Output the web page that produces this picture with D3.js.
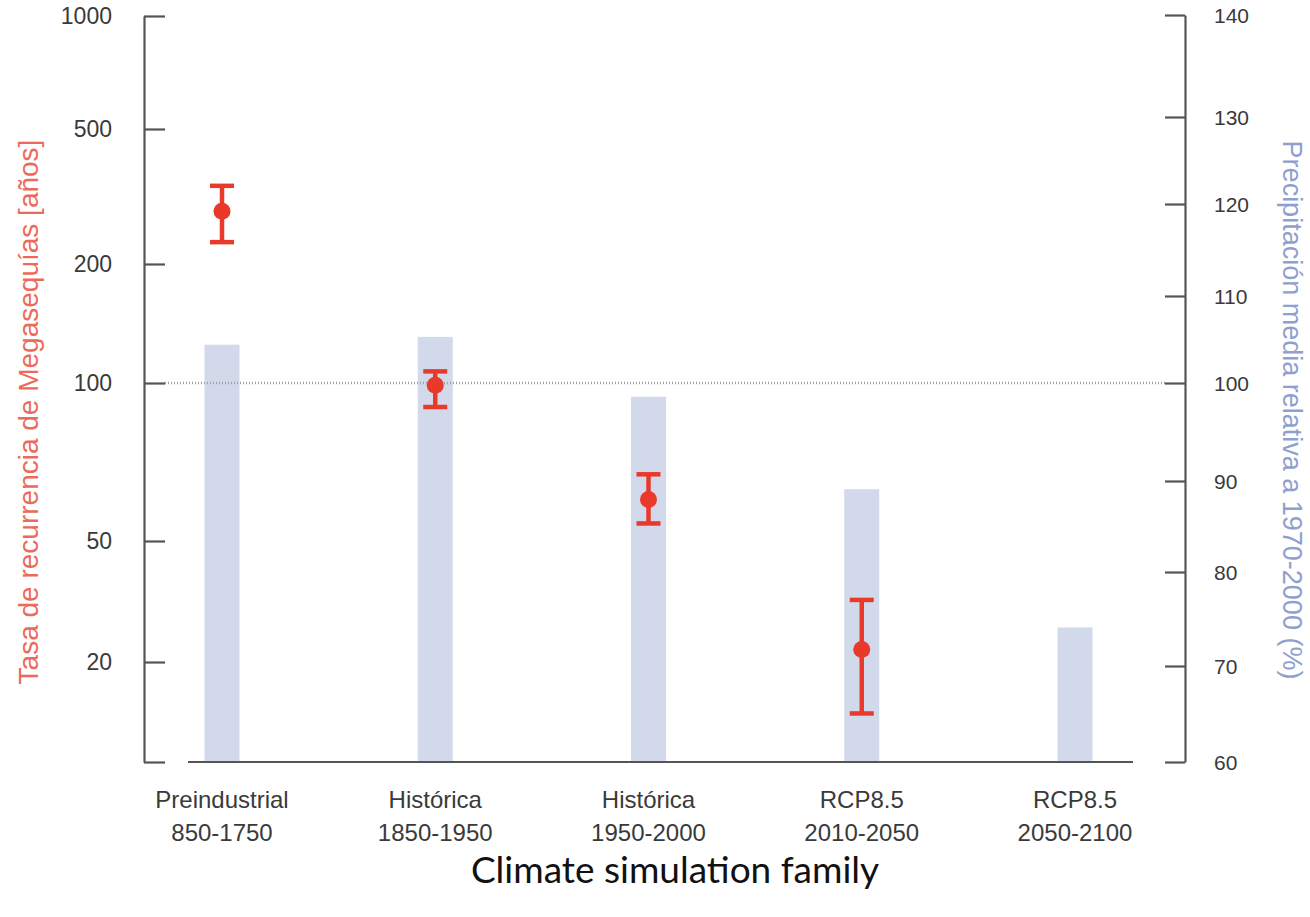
<!DOCTYPE html>
<html>
<head>
<meta charset="utf-8">
<script src="https://cdn.jsdelivr.net/npm/d3@7"></script>
<style>
  html, body { margin: 0; padding: 0; background: #fff; }
  svg { display: block; }
</style>
</head>
<body>
<svg id="chart" width="1310" height="917"></svg>
<script>
// ---- data ----
const categories = ["Preindustrial|850-1750", "Histórica|1850-1950", "Histórica|1950-2000", "RCP8.5|2010-2050", "RCP8.5|2050-2100"];
const precipitation = [104.4, 105.3, 98.6, 89.1, 74.1];           // right axis (%)
const recurrence = [286, 99, 60, 22, null];                      // left axis (años)
const recurrenceLow = [232, 90, 54, 14, null];
const recurrenceHigh = [340, 107, 67, 32, null];
const leftTicks = [1000, 500, 200, 100, 50, 20];
const rightTicks = [140, 130, 120, 110, 100, 90, 80, 70, 60];

const svg = d3.select("#chart");

// ---- scales ----
const x = d3.scalePoint().domain(categories).range([222, 1075]);
// left axis: piecewise log scale as printed in the figure
const yL = d3.scaleLog()
  .domain([1000, 500, 200, 100, 50, 20, 10])
  .range([16, 129, 264, 383, 541, 662, 762]);
// right axis: linear (piecewise to follow printed tick positions)
const yR = d3.scaleLinear()
  .domain([140, 130, 120, 110, 100, 90, 80, 70, 60])
  .range([15, 117, 204, 296, 383, 481, 572, 666, 762]);

const axisColor = "#555";
const tickFont = "'Liberation Sans', Arial, Helvetica, sans-serif";

// ---- bars ----
const barW = 35;
svg.append("g").selectAll("rect").data(precipitation).join("rect")
  .attr("x", (d, i) => x(categories[i]) - barW / 2)
  .attr("width", barW)
  .attr("y", d => yR(d))
  .attr("height", d => yR(60) - yR(d))
  .attr("fill", "#d2d9ea");

// ---- reference dotted line at 100 ----
svg.append("line")
  .attr("x1", 165).attr("x2", 1165)
  .attr("y1", yL(100)).attr("y2", yL(100))
  .attr("stroke", "#a0a0a0").attr("stroke-width", 2.5)
  .attr("stroke-dasharray", "1 2");

// ---- left axis ----
const leftAxis = d3.axisRight(yL)
  .tickValues(leftTicks.concat([10]))
  .tickFormat("")
  .tickSize(21)
  .tickSizeOuter(0);
const gL = svg.append("g").attr("transform", "translate(144,0)").call(leftAxis);
gL.select(".domain").attr("stroke", axisColor).attr("stroke-width", 2.2);
gL.selectAll(".tick line").attr("stroke", axisColor).attr("stroke-width", 2.2);
svg.append("g").selectAll("text").data(leftTicks).join("text")
  .attr("x", 112).attr("y", d => yL(d))
  .attr("dy", "0.36em")
  .attr("text-anchor", "end")
  .attr("font-family", tickFont).attr("font-size", 23)
  .attr("fill", "#3a3a3a")
  .text(d => d);

// ---- right axis ----
const rightAxis = d3.axisLeft(yR)
  .tickValues(rightTicks)
  .tickFormat("")
  .tickSize(20)
  .tickSizeOuter(0);
const gR = svg.append("g").attr("transform", "translate(1185,0)").call(rightAxis);
gR.select(".domain").attr("stroke", axisColor).attr("stroke-width", 2.2);
gR.selectAll(".tick line").attr("stroke", axisColor).attr("stroke-width", 2.2);
svg.append("g").selectAll("text").data(rightTicks).join("text")
  .attr("x", 1214).attr("y", d => yR(d))
  .attr("dy", "0.36em")
  .attr("text-anchor", "start")
  .attr("font-family", tickFont).attr("font-size", 21)
  .attr("fill", "#3a3a3a")
  .text(d => d);

// ---- bottom axis line ----
svg.append("line")
  .attr("x1", 188).attr("x2", 1133)
  .attr("y1", yR(60)).attr("y2", yR(60))
  .attr("stroke", axisColor).attr("stroke-width", 2.2);

// ---- category labels ----
const catG = svg.append("g").selectAll("text").data(categories).join("text")
  .attr("text-anchor", "middle")
  .attr("font-family", tickFont).attr("font-size", 24)
  .attr("fill", "#3a3a3a");
catG.each(function (d) {
  const parts = d.split("|");
  const t = d3.select(this);
  t.append("tspan").attr("x", x(d)).attr("y", 808).text(parts[0]);
  t.append("tspan").attr("x", x(d)).attr("y", 841).text(parts[1]);
});

// ---- error bars ----
const red = "#e8392a";
const capW = 24;
const eg = svg.append("g");
recurrence.forEach((v, i) => {
  if (v == null) return;
  const cx = x(categories[i]);
  eg.append("line")
    .attr("x1", cx).attr("x2", cx)
    .attr("y1", yL(recurrenceHigh[i])).attr("y2", yL(recurrenceLow[i]))
    .attr("stroke", red).attr("stroke-width", 4.5);
  [recurrenceHigh[i], recurrenceLow[i]].forEach(b => {
    eg.append("line")
      .attr("x1", cx - capW / 2).attr("x2", cx + capW / 2)
      .attr("y1", yL(b)).attr("y2", yL(b))
      .attr("stroke", red).attr("stroke-width", 4.5);
  });
  eg.append("circle")
    .attr("cx", cx).attr("cy", yL(v)).attr("r", 8.5)
    .attr("fill", red);
});

// ---- axis titles ----
svg.append("text")
  .attr("transform", "translate(38,412) rotate(-90)")
  .attr("text-anchor", "middle")
  .attr("font-family", tickFont).attr("font-size", 28)
  .attr("fill", "#ec6a5c")
  .text("Tasa de recurrencia de Megasequías [años]");

svg.append("text")
  .attr("transform", "translate(1283,410) rotate(90)")
  .attr("text-anchor", "middle")
  .attr("font-family", tickFont).attr("font-size", 27)
  .attr("fill", "#8e9fd0")
  .text("Precipitación media relativa a 1970-2000 (%)");

svg.append("text")
  .attr("x", 675).attr("y", 883)
  .attr("text-anchor", "middle")
  .attr("font-family", "Lato, 'Open Sans', sans-serif").attr("font-size", 37)
  .attr("fill", "#111")
  .text("Climate simulation family");
</script>
</body>
</html>
